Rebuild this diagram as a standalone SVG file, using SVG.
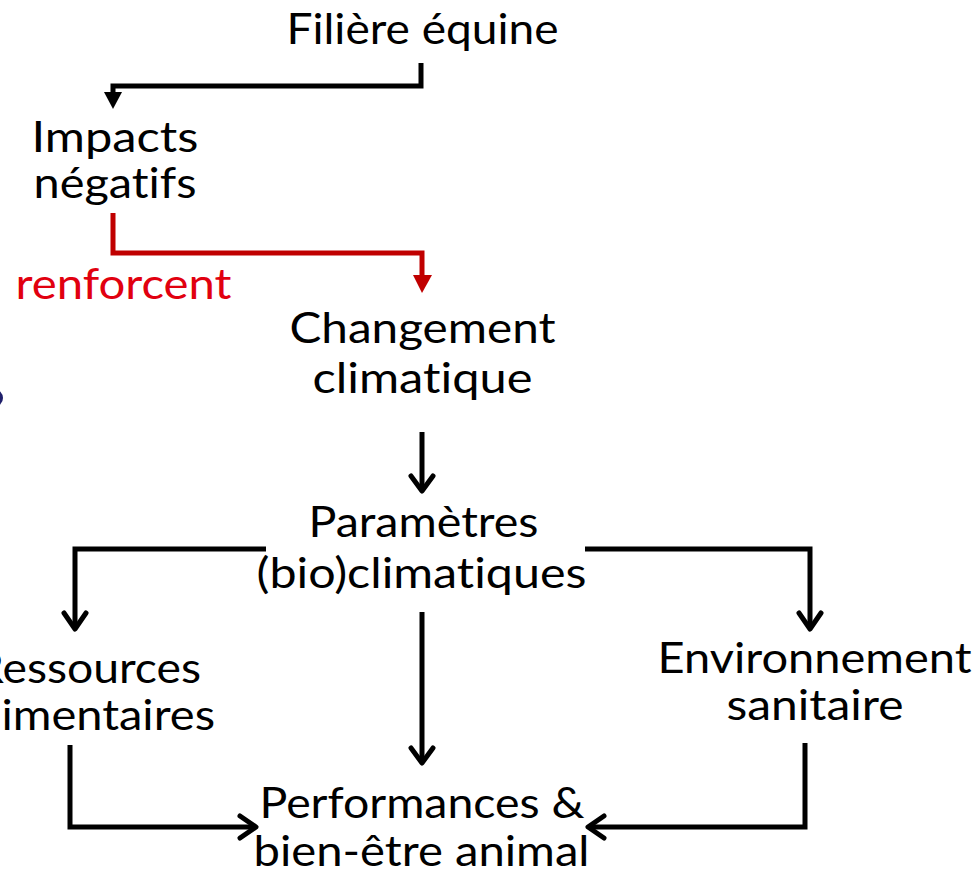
<svg xmlns="http://www.w3.org/2000/svg" width="975" height="871" viewBox="0 0 975 871">
<defs>
<style>
.t{font-family:Lato,"Liberation Sans",sans-serif;font-size:43px;fill:#000;text-anchor:middle;font-variant-ligatures:none}
.r{fill:#e1000f}
.c{fill:none;stroke:#000;stroke-width:5;stroke-linejoin:miter}
.cr{fill:none;stroke:#c00000;stroke-width:5}
.ch{fill:none;stroke:#000;stroke-width:5;stroke-linecap:round;stroke-linejoin:round}
</style>
</defs>
<rect width="975" height="871" fill="#fff"/>
<circle cx="-6" cy="398" r="9" fill="#1f1f6b"/>
<g id="connectors">
<path class="c" d="M421,63 V86 H113 V95"/>
<polygon points="104,92 122,92 113,109" fill="#000"/>
<path class="cr" d="M113,213 V253 H422 V278"/>
<polygon points="413,275 432,275 422,293" fill="#c00000"/>
<path class="c" d="M422,432 V490"/>
<path class="ch" d="M411,476 L422,491 L433,476"/>
<path class="c" d="M266,549 H75 V628"/>
<path class="ch" d="M64,613 L75,629 L86,613"/>
<path class="c" d="M585,549 H810 V628"/>
<path class="ch" d="M799,613 L810,629 L821,613"/>
<path class="c" d="M422,612 V762"/>
<path class="ch" d="M411,748 L422,763 L433,748"/>
<path class="c" d="M70,745 V827 H254"/>
<path class="ch" d="M240,816 L256,827 L240,838"/>
<path class="c" d="M805,743 V827 H590"/>
<path class="ch" d="M604,816 L588,827 L604,838"/>
</g>
<g id="filiere"><text class="t" x="422.5" y="44" textLength="272" lengthAdjust="spacingAndGlyphs">Filière équine</text></g>
<g id="impacts"><text class="t" x="115" y="152" textLength="167" lengthAdjust="spacingAndGlyphs">Impacts</text><text class="t" x="115" y="198" textLength="163" lengthAdjust="spacingAndGlyphs">négatifs</text></g>
<g id="renforcent"><text class="t r" x="123.5" y="299" textLength="216" lengthAdjust="spacingAndGlyphs">renforcent</text></g>
<g id="changement"><text class="t" x="422.5" y="343" textLength="266" lengthAdjust="spacingAndGlyphs">Changement</text><text class="t" x="422.5" y="393" textLength="220" lengthAdjust="spacingAndGlyphs">climatique</text></g>
<g id="parametres"><text class="t" x="423.5" y="537" textLength="230" lengthAdjust="spacingAndGlyphs">Paramètres</text><text class="t" x="421.5" y="588" textLength="330" lengthAdjust="spacingAndGlyphs">(bio)climatiques</text></g>
<g id="ressources"><text class="t" x="88" y="683" textLength="226" lengthAdjust="spacingAndGlyphs">Ressources</text><text class="t" x="91" y="730" textLength="248" lengthAdjust="spacingAndGlyphs">alimentaires</text></g>
<g id="environnement"><text class="t" x="814.5" y="673" textLength="314" lengthAdjust="spacingAndGlyphs">Environnement</text><text class="t" x="815" y="720" textLength="177" lengthAdjust="spacingAndGlyphs">sanitaire</text></g>
<g id="performances"><text class="t" x="422" y="818" textLength="325" lengthAdjust="spacingAndGlyphs">Performances &amp;</text><text class="t" x="421.5" y="866" textLength="336" lengthAdjust="spacingAndGlyphs">bien-être animal</text></g>
</svg>
